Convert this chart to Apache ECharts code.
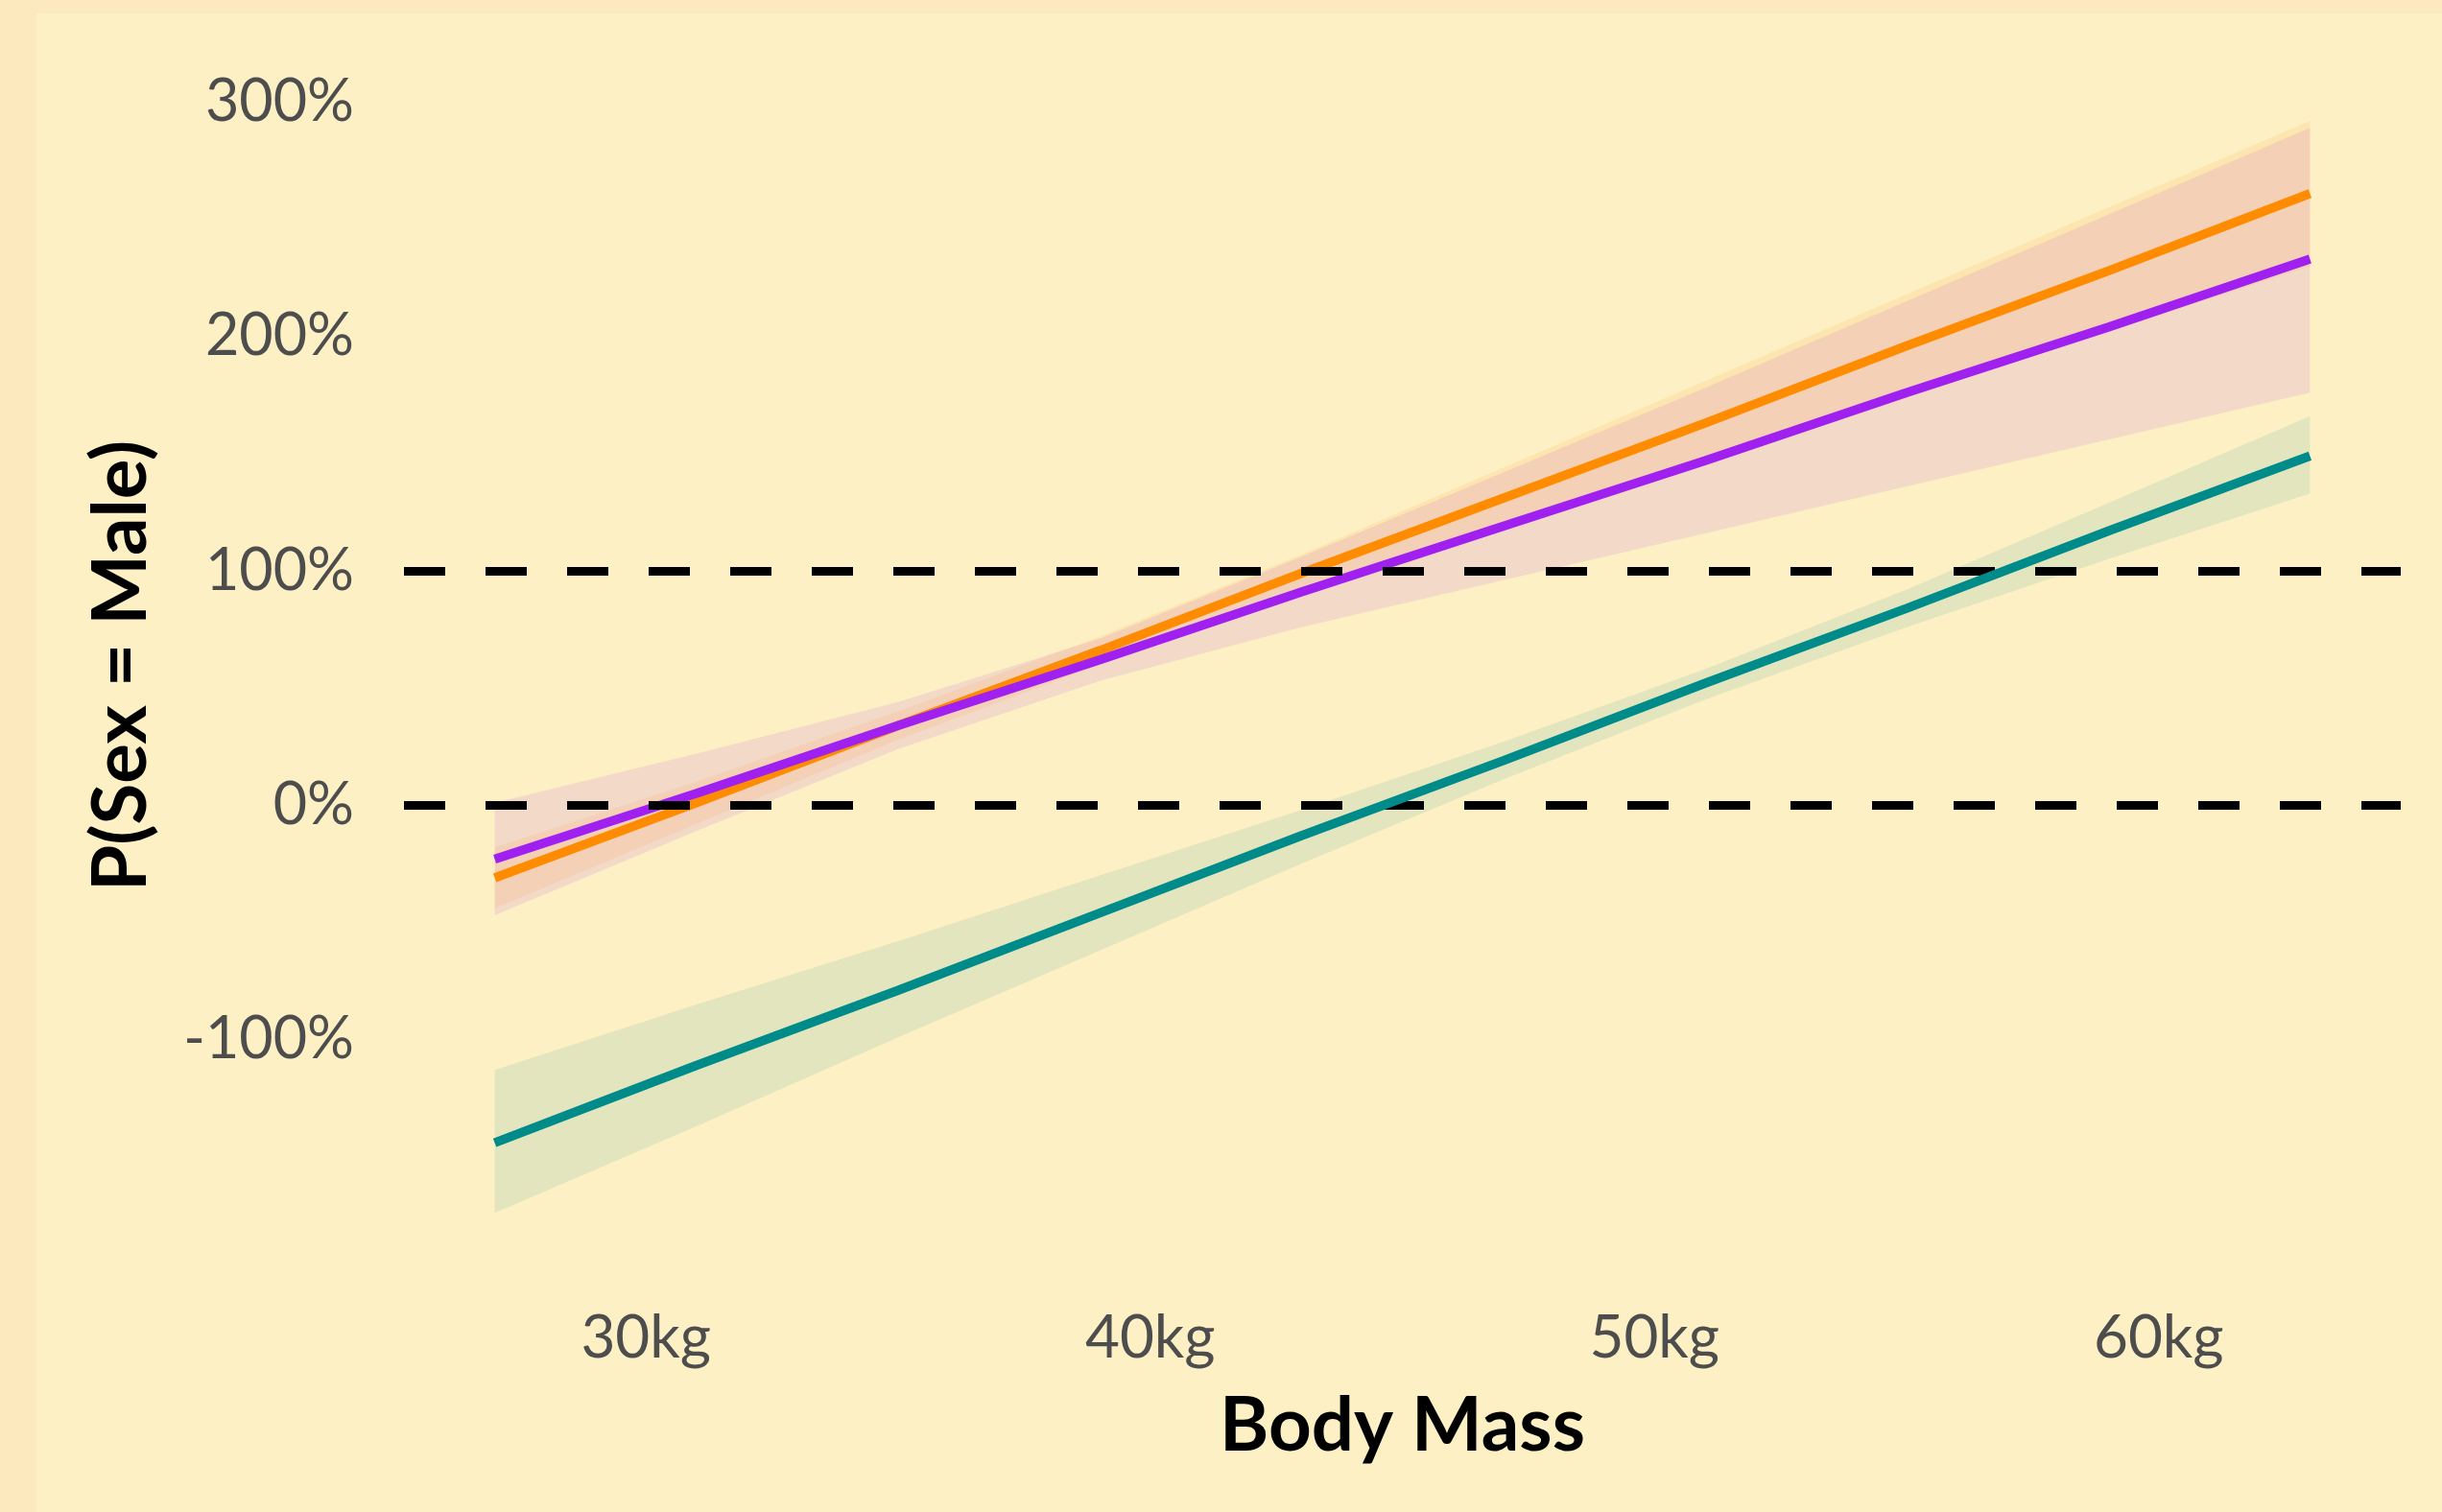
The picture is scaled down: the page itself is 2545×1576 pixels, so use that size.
<!DOCTYPE html>
<html>
<head>
<meta charset="utf-8">
<script src="https://cdn.jsdelivr.net/npm/echarts@6/dist/echarts.min.js"></script>
<style>
  html, body { margin: 0; padding: 0; background: #fde9be; }
  #chart { width: 2545px; height: 1576px; }
</style>
</head>
<body>
<div id="chart"></div>
<script>
// Body mass grid (kg) at which fitted values and confidence bounds are given
const bodyMass = [27, 31, 35, 39, 43, 47, 51, 55, 59, 63];

// Adelie: fitted P(Sex = Male) with lower / upper confidence bounds
const adelieFit  = [-0.31, 0.01, 0.34, 0.66, 0.99, 1.31, 1.63, 1.96, 2.28, 2.61];
const adelieLow  = [-0.44, -0.08, 0.28, 0.60, 0.90, 1.18, 1.46, 1.74, 2.02, 2.30];
const adelieHigh = [-0.18, 0.10, 0.40, 0.72, 1.07, 1.44, 1.81, 2.18, 2.55, 2.92];

// Chinstrap
const chinstrapFit  = [-0.23, 0.05, 0.34, 0.62, 0.91, 1.19, 1.47, 1.76, 2.04, 2.33];
const chinstrapLow  = [-0.47, -0.11, 0.24, 0.53, 0.76, 0.96, 1.16, 1.36, 1.56, 1.76];
const chinstrapHigh = [0.01, 0.22, 0.44, 0.71, 1.06, 1.42, 1.78, 2.15, 2.52, 2.89];

// Gentoo
const gentooFit  = [-1.44, -1.11, -0.79, -0.46, -0.13, 0.19, 0.52, 0.84, 1.17, 1.49];
const gentooLow  = [-1.74, -1.37, -0.99, -0.62, -0.25, 0.11, 0.45, 0.76, 1.05, 1.33];
const gentooHigh = [-1.13, -0.85, -0.58, -0.30, -0.02, 0.27, 0.58, 0.92, 1.29, 1.66];

// Reference levels (0% and 100%) and axis tick values
const refLevels = [0, 1];
const xTicks = [30, 40, 50, 60];
const yTicks = [-1, 0, 1, 2, 3];

const FONT = 'Lato, "Fira Sans", Roboto, sans-serif';

function band(name, low, high, fill) {
  return {
    type: 'custom',
    name: name,
    silent: true,
    z: 1,
    data: bodyMass.map((x, i) => [x, low[i], high[i]]),
    encode: { x: 0, y: [1, 2] },
    renderItem: function (params, api) {
      if (params.dataIndex !== 0) return null;
      const upper = bodyMass.map((x, i) => api.coord([x, high[i]]));
      const lower = bodyMass.map((x, i) => api.coord([x, low[i]])).reverse();
      return {
        type: 'polygon',
        shape: { points: upper.concat(lower) },
        style: { fill: fill }
      };
    }
  };
}

function fitLine(name, fit, color, z) {
  return {
    type: 'line',
    name: name,
    silent: true,
    z: z,
    symbol: 'none',
    data: bodyMass.map((x, i) => [x, fit[i]]),
    lineStyle: { color: color, width: 9.5, cap: 'butt' }
  };
}

const chart = echarts.init(document.getElementById('chart'), null, { renderer: 'canvas' });

chart.setOption({
  backgroundColor: 'transparent',
  animation: false,
  graphic: [{
    type: 'rect',
    z: -10,
    silent: true,
    shape: { x: 38, y: 14, width: 2545 - 38, height: 1576 - 14 },
    style: { fill: '#fdf0c4' }
  }],
  grid: { left: 421, top: 66.5, width: 2081, height: 1254.9, containLabel: false },
  xAxis: {
    type: 'value',
    min: 25.2,
    max: 64.8,
    name: 'Body Mass',
    nameLocation: 'middle',
    nameGap: 126,
    nameTextStyle: { fontFamily: FONT, fontWeight: 'bold', fontSize: 78, color: '#000000' },
    axisLine: { show: false },
    axisTick: { show: false },
    splitLine: { show: false },
    axisLabel: {
      customValues: xTicks,
      formatter: v => v + 'kg',
      margin: 43,
      fontFamily: FONT,
      fontSize: 62,
      color: '#4d4d4d'
    }
  },
  yAxis: {
    type: 'value',
    min: -1.9735,
    max: 3.1635,
    name: 'P(Sex = Male)',
    nameLocation: 'middle',
    nameGap: 255,
    nameTextStyle: { fontFamily: FONT, fontWeight: 'bold', fontSize: 78, color: '#000000' },
    axisLine: { show: false },
    axisTick: { show: false },
    splitLine: { show: false },
    axisLabel: {
      customValues: yTicks,
      formatter: v => Math.round(v * 100) + '%',
      margin: 52,
      fontFamily: FONT,
      fontSize: 61,
      color: '#4d4d4d'
    }
  },
  series: [
    band('Adelie band', adelieLow, adelieHigh, 'rgba(255,140,0,0.1)'),
    band('Chinstrap band', chinstrapLow, chinstrapHigh, 'rgba(160,32,240,0.1)'),
    band('Gentoo band', gentooLow, gentooHigh, 'rgba(0,139,139,0.1)'),
    fitLine('Adelie', adelieFit, '#ff8c00', 3),
    fitLine('Chinstrap', chinstrapFit, '#a020f0', 4),
    fitLine('Gentoo', gentooFit, '#008b8b', 5),
    {
      type: 'line',
      name: 'reference',
      silent: true,
      z: 6,
      data: [],
      markLine: {
        silent: true,
        symbol: ['none', 'none'],
        label: { show: false },
        lineStyle: { color: '#000000', width: 9, type: [43, 42], cap: 'butt' },
        data: refLevels.map(v => ({ yAxis: v }))
      }
    }
  ]
});
</script>
</body>
</html>
